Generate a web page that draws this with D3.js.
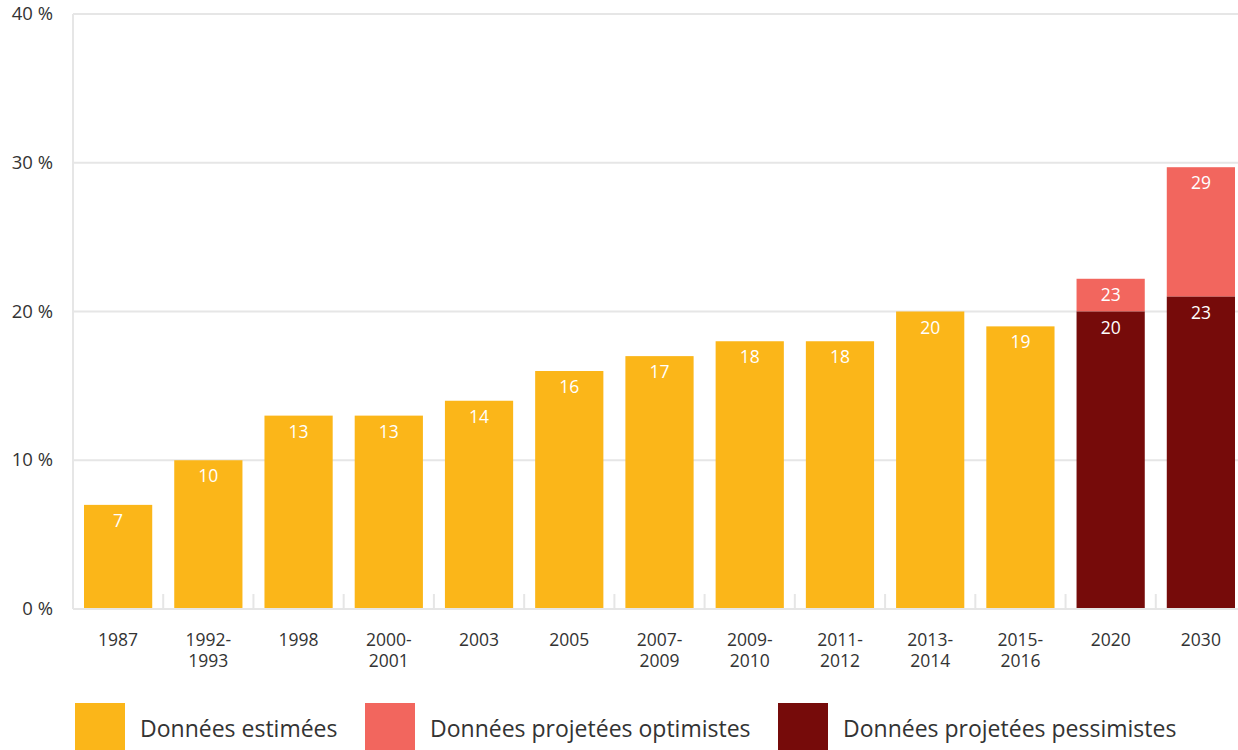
<!DOCTYPE html>
<html>
<head>
<meta charset="utf-8">
<script src="https://cdn.jsdelivr.net/npm/d3@7"></script>
<style>
  body { margin: 0; background: #fff; font-family: "Open Sans", sans-serif; }
  svg text { font-family: "Open Sans", sans-serif; }
</style>
</head>
<body>
<div id="chart"></div>
<script>
// categories (multi-line labels split on "\n")
const categories = ['1987', '1992-\n1993', '1998', '2000-\n2001', '2003', '2005', '2007-\n2009',
    '2009-\n2010', '2011-\n2012', '2013-\n2014', '2015-\n2016', '2020', '2030'];
// estimated data (null where not applicable)
const estimated = [7, 10, 13, 13, 14, 16, 17, 18, 18, 20, 19, null, null];
// projected pessimistic (bottom segment) and optimistic (stacked top) heights
const pessimistic = [null, null, null, null, null, null, null, null, null, null, null, 20, 21];
const optimistic = [null, null, null, null, null, null, null, null, null, null, null, 22.2, 29.7];
// labels printed on projected bars
const pessimisticLabels = [null, null, null, null, null, null, null, null, null, null, null, '20', '23'];
const optimisticLabels = [null, null, null, null, null, null, null, null, null, null, null, '23', '29'];
const yTicks = [0, 10, 20, 30, 40];
const legendItems = ['Données estimées', 'Données projetées optimistes', 'Données projetées pessimistes'];

const colors = { est: '#fbb619', opt: '#f2665e', pes: '#760b0a' };

const W = 1238, H = 750;
const margin = { top: 14, right: -8, bottom: 141, left: 73 };
const width = W - margin.left - margin.right;
const height = H - margin.top - margin.bottom;

const svg = d3.select('#chart').append('svg')
    .attr('width', W)
    .attr('height', H);

const g = svg.append('g').attr('transform', `translate(${margin.left},${margin.top})`);

const x = d3.scaleBand()
    .domain(categories)
    .range([0, width])
    .paddingInner(0.244)
    .paddingOuter(0.122);

const y = d3.scaleLinear().domain([0, 40]).range([height, 0]);

// gridlines
g.selectAll('.grid').data(yTicks.filter(d => d > 0)).join('line')
    .attr('x1', 0).attr('x2', W - margin.left)
    .attr('y1', d => y(d)).attr('y2', d => y(d))
    .attr('stroke', '#e6e6e6').attr('stroke-width', 2);

// left axis line
g.append('line')
    .attr('x1', 0).attr('x2', 0)
    .attr('y1', y(40)).attr('y2', y(0))
    .attr('stroke', '#e6e6e6').attr('stroke-width', 2);

// y labels
g.selectAll('.ylab').data(yTicks).join('text')
    .attr('x', -20).attr('y', d => y(d) + 6)
    .attr('text-anchor', 'end')
    .attr('font-size', 18.5)
    .attr('fill', '#333')
    .text(d => `${d} %`);

// bars - estimated
const bw = x.bandwidth();
g.selectAll('.est').data(categories.map((c, i) => ({ c, v: estimated[i] })).filter(d => d.v != null))
    .join('rect')
    .attr('x', d => x(d.c)).attr('width', bw)
    .attr('y', d => y(d.v)).attr('height', d => y(0) - y(d.v))
    .attr('fill', colors.est);

const proj = categories.map((c, i) => ({ c, p: pessimistic[i], o: optimistic[i], pl: pessimisticLabels[i], ol: optimisticLabels[i] }))
    .filter(d => d.p != null);

g.selectAll('.opt').data(proj).join('rect')
    .attr('x', d => x(d.c)).attr('width', bw)
    .attr('y', d => y(d.o)).attr('height', d => y(d.p) - y(d.o))
    .attr('fill', colors.opt);

g.selectAll('.pes').data(proj).join('rect')
    .attr('x', d => x(d.c)).attr('width', bw)
    .attr('y', d => y(d.p)).attr('height', d => y(0) - y(d.p))
    .attr('fill', colors.pes);

// value labels
const lab = (sel, yv, txt) => sel.append('text')
    .attr('x', d => x(d.c) + bw / 2)
    .attr('y', d => y(yv(d)) + 22)
    .attr('text-anchor', 'middle')
    .attr('font-size', 17.5)
    .attr('fill', '#fff')
    .text(txt);

const labels = g.append('g');
categories.forEach((c, i) => {
    if (estimated[i] != null) lab(labels.append('g').datum({ c, v: estimated[i] }), d => d.v, d => d.v);
});
proj.forEach(p => {
    lab(labels.append('g').datum(p), d => d.o, d => d.ol);
    lab(labels.append('g').datum(p), d => d.p, d => d.pl);
});

// bottom axis line and ticks at band boundaries
g.append('line')
    .attr('x1', 0).attr('x2', W - margin.left)
    .attr('y1', y(0)).attr('y2', y(0))
    .attr('stroke', '#e6e6e6').attr('stroke-width', 2);

g.selectAll('.tick').data(categories.slice(1)).join('line')
    .attr('x1', d => x(d) - x.step() * x.paddingInner() / 2)
    .attr('x2', d => x(d) - x.step() * x.paddingInner() / 2)
    .attr('y1', y(0) - 15).attr('y2', y(0))
    .attr('stroke', '#e6e6e6').attr('stroke-width', 2);

// x labels
const xl = g.selectAll('.xlab').data(categories).join('text')
    .attr('x', d => x(d) + bw / 2)
    .attr('y', y(0) + 37)
    .attr('text-anchor', 'middle')
    .attr('font-size', 17.5)
    .attr('fill', '#333');
xl.selectAll('tspan').data(d => d.split('\n')).join('tspan')
    .attr('x', function () { return d3.select(this.parentNode).attr('x'); })
    .attr('dy', (d, i) => i === 0 ? 0 : 21)
    .text(d => d);

// legend
const legendX = [75, 365, 778];
const legendColors = [colors.est, colors.opt, colors.pes];
const legend = svg.selectAll('.leg').data(legendItems).join('g')
    .attr('transform', (d, i) => `translate(${legendX[i]},703)`);
legend.append('rect').attr('width', 50).attr('height', 47).attr('fill', (d, i) => legendColors[i]);
legend.append('text').attr('x', 65).attr('y', 34)
    .attr('font-size', 23).attr('fill', '#333').text(d => d);
</script>
</body>
</html>
